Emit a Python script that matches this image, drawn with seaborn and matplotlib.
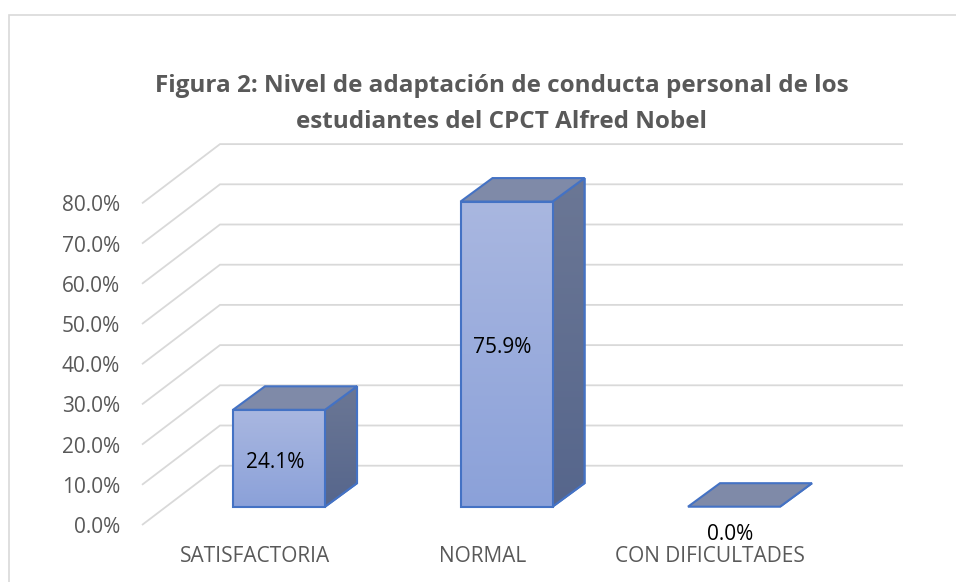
import numpy as np
import pandas as pd
import matplotlib
matplotlib.use("Agg")
import matplotlib.pyplot as plt
import seaborn as sns
from matplotlib.patches import Polygon, Rectangle
from matplotlib.colors import LinearSegmentedColormap

# ---- data ----
categories = ["SATISFACTORIA", "NORMAL", "CON DIFICULTADES"]
values = [24.1, 75.9, 0.0]
value_labels = ["24.1%", "75.9%", "0.0%"]
tick_values = [0, 10, 20, 30, 40, 50, 60, 70, 80]
tick_labels = ["0.0%", "10.0%", "20.0%", "30.0%", "40.0%", "50.0%", "60.0%", "70.0%", "80.0%"]
title = "Figura 2: Nivel de adaptación de conducta personal de los\nestudiantes del CPCT Alfred Nobel"

# ---- style ----
sns.set_theme(style="white")
plt.rcParams['font.family'] = ['Open Sans', 'DejaVu Sans']

GRID = "#D9D9D9"
TXT = "#595959"
EDGE = "#4472C4"
FRONT_TOP, FRONT_BOT = "#A9B7E0", "#8BA1D9"
SIDE_TOP, SIDE_BOT = "#6B7795", "#56668C"
TOP_C = "#7F8AA8"

W, H = 956, 582
fig = plt.figure(figsize=(W / 100, H / 100), dpi=100)
ax = fig.add_axes([0, 0, 1, 1])

# pixel scale helpers (layout only)
PXX, PXY = 227.5, 4.02
X0, Y0 = 279, 506.7
def dx(px):
    return px / PXX
def dy(px):
    return px / PXY

bar_w = dx(92)
depth_x, depth_y = dx(32), dy(23.5)
wall_x0, wall_x1 = dx(220 - X0), dx(903 - X0)
wall_dy = dy(41)
floor_x = dx(142 - X0)
floor_dy = dy(-18.3)

# back wall gridlines + floor diagonals and y tick labels
for v, lbl in zip(tick_values, tick_labels):
    ax.plot([floor_x, wall_x0, wall_x1], [v + floor_dy, v + wall_dy, v + wall_dy],
            color=GRID, lw=1.3, zorder=1, solid_capstyle='butt', solid_joinstyle='miter')
    ax.text(dx(120 - X0), v + floor_dy - dy(8), lbl, ha='right', va='baseline',
            fontsize=15, color=TXT)

# front faces via seaborn
df = pd.DataFrame({"cat": categories, "val": values})
sns.barplot(data=df, x="cat", y="val", width=bar_w, color=FRONT_BOT, saturation=1,
            edgecolor=EDGE, linewidth=1.5, ax=ax, zorder=4)

grad = np.linspace(0, 1, 256).reshape(-1, 1)
front_cmap = LinearSegmentedColormap.from_list("f", [FRONT_BOT, FRONT_TOP])
side_cmap = LinearSegmentedColormap.from_list("s", [SIDE_BOT, SIDE_TOP])

bars = [p for p in ax.patches if isinstance(p, Rectangle)][:len(values)]
for i, p in enumerate(bars):
    x0 = p.get_x()
    w = p.get_width()
    h = p.get_height()
    x1 = x0 + w
    # side face
    side = Polygon([(x1, 0), (x1 + depth_x, depth_y), (x1 + depth_x, h + depth_y), (x1, h)],
                   closed=True, facecolor=SIDE_BOT, edgecolor=EDGE, lw=1.5, zorder=3,
                   joinstyle='miter')
    ax.add_patch(side)
    if h > 0:
        im = ax.imshow(grad, extent=[x1, x1 + depth_x, 0, h + depth_y], origin='lower',
                       cmap=side_cmap, aspect='auto', zorder=3.1, interpolation='bilinear')
        im.set_clip_path(side)
        ax.add_patch(Polygon(side.get_xy(), closed=True, fill=False, edgecolor=EDGE,
                             lw=1.5, zorder=3.2, joinstyle='miter'))
    # top face
    ax.add_patch(Polygon([(x0, h), (x0 + depth_x, h + depth_y), (x1 + depth_x, h + depth_y), (x1, h)],
                         closed=True, facecolor=TOP_C, edgecolor=EDGE, lw=1.5, zorder=3.3,
                         joinstyle='miter'))
    # front gradient
    if h > 0:
        im = ax.imshow(grad, extent=[x0, x1, 0, h], origin='lower', cmap=front_cmap,
                       aspect='auto', zorder=4.1, interpolation='bilinear')
        im.set_clip_path(p)
        p.set_facecolor('none')
        p.set_zorder(4.5)
    else:
        p.set_visible(False)

# value labels (baseline placement)
for i, (v, lbl) in enumerate(zip(values, value_labels)):
    if v > 0:
        ypos = 0.552 * v - 2.1 - dy(6)
    else:
        ypos = dy(Y0 - 540)
    ax.text(i - dx(4), ypos, lbl, ha='center', va='baseline', fontsize=15,
            color='black', zorder=6)

# category labels
for i, c in enumerate(categories):
    ax.text(i - dx(24), dy(Y0 - 562.5), c, ha='center', va='baseline', fontsize=15, color=TXT)

# title
fig.text(502 / W, 1 - 104 / H, title, ha='center', va='center', fontsize=17.5,
         fontweight='bold', color=TXT, linespacing=1.65)

# chart border
fig.add_artist(Rectangle((9 / W, -0.1), 1.2, 1 - 15 / H + 0.1, transform=fig.transFigure,
                         fill=False, edgecolor=GRID, lw=1.2))

ax.set_xlim(-X0 / PXX, (W - X0) / PXX)
ax.set_ylim((Y0 - H) / PXY, Y0 / PXY)
ax.axis('off')

fig.savefig("out.png", dpi=100)
